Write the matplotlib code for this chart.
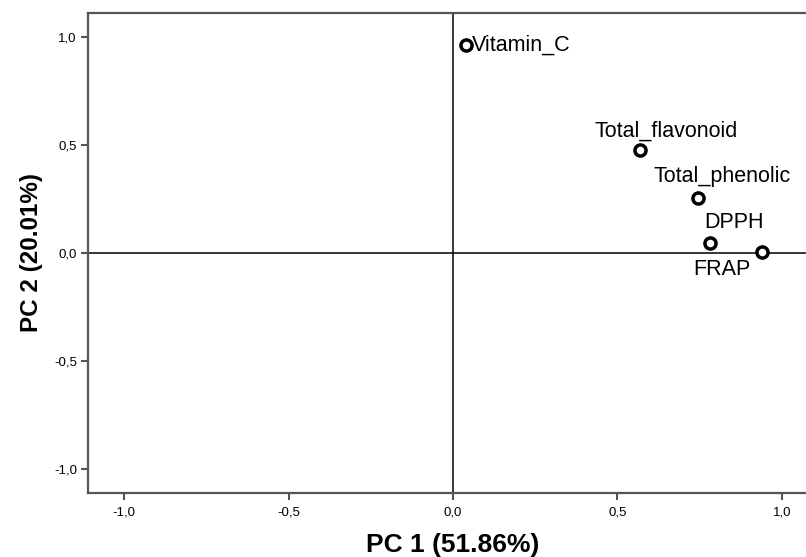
import numpy as np
import matplotlib.pyplot as plt
from matplotlib.ticker import FuncFormatter

plt.rcParams['font.family'] = ['Liberation Sans', 'DejaVu Sans']

names = ['Vitamin_C', 'Total_flavonoid', 'Total_phenolic', 'DPPH', 'FRAP']
pc1 = [0.04, 0.569, 0.745, 0.782, 0.94]
pc2 = [0.963, 0.477, 0.255, 0.046, 0.005]
# label offsets in pixels (dx, dy) and alignment
offs = [(6, 0, 'left'), (26, 19, 'center'), (24, 21, 'center'), (24, 21, 'center'), (-40, -18, 'center')]

fig = plt.figure(figsize=(8.06, 5.57), dpi=100)
ax = fig.add_axes([88/806, 64/557, 730/806, 480/557])

ax.axhline(0, color='black', lw=1.1, zorder=1)
ax.axvline(0, color='black', lw=1.1, zorder=1)
ax.plot(pc1, pc2, 'o', ms=8, mfc='white', mec='black', mew=2.5, zorder=3)

for x, y, n, (dx, dy, ha) in zip(pc1, pc2, names, offs):
    ax.annotate(n, (x, y), xytext=(dx*0.72, dy*0.72), textcoords='offset points',
                ha=ha, va='center', fontsize=15.5)

ax.set_xlim(-1.11, 1.11)
ax.set_ylim(-1.11, 1.11)
ticks = [-1.0, -0.5, 0.0, 0.5, 1.0]
ax.set_xticks(ticks)
ax.set_yticks(ticks)
fmt = FuncFormatter(lambda v, p: f"{v:.1f}".replace('.', ',').replace('-0,0', '0,0'))
ax.xaxis.set_major_formatter(fmt)
ax.yaxis.set_major_formatter(fmt)
ax.tick_params(length=5, width=1.5, color='#555555', labelsize=9.5, pad=3)
ax.tick_params(axis='x', pad=5)

for s in ['left', 'bottom', 'top']:
    ax.spines[s].set_color('#555555')
    ax.spines[s].set_linewidth(1.6)
ax.spines['right'].set_visible(False)

ax.set_xlabel('PC 1 (51.86%)', fontsize=19, fontweight='bold', labelpad=10)
ax.set_ylabel('PC 2 (20.01%)', fontsize=17.5, fontweight='bold', labelpad=8)

fig.savefig('out.png', dpi=100)
